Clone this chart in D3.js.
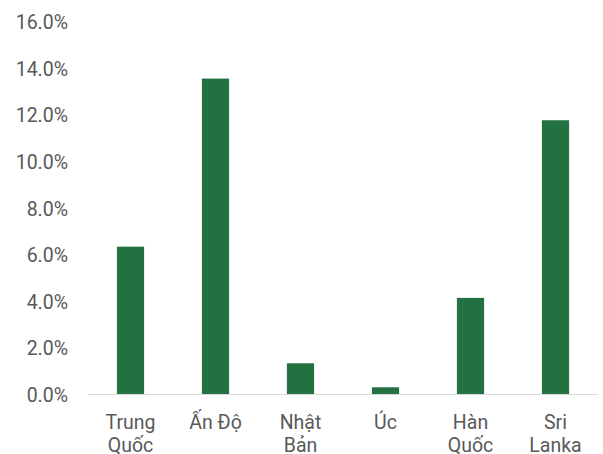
<!DOCTYPE html>
<html>
<head>
<meta charset="utf-8">
<script src="https://cdn.jsdelivr.net/npm/d3@7"></script>
<style>
  body { margin: 0; background: #fff; }
  text { font-family: Roboto, "Noto Sans", sans-serif; fill: #595959; }
</style>
</head>
<body>
<svg id="viz" width="603" height="454"></svg>
<script>
// Data
const categories = [['Trung', 'Quốc'], ['Ấn Độ'], ['Nhật', 'Bản'], ['Úc'], ['Hàn', 'Quốc'], ['Sri', 'Lanka']];
const values = [6.35, 13.57, 1.34, 0.31, 4.15, 11.78];
const yTicks = [0, 2, 4, 6, 8, 10, 12, 14, 16];

const svg = d3.select('#viz');
const margin = { top: 22, right: 5, bottom: 59.5, left: 88 };
const width  = 603 - margin.left - margin.right;
const height = 454 - margin.top - margin.bottom;
const g = svg.append('g').attr('transform', `translate(${margin.left},${margin.top})`);

const x = d3.scaleBand()
  .domain(d3.range(categories.length))
  .range([0, width]);

const y = d3.scaleLinear()
  .domain([0, 16])
  .range([height, 0]);

// Y axis labels
const yAxis = g.append('g')
  .call(d3.axisLeft(y).tickValues(yTicks).tickFormat(d => d.toFixed(1) + '%').tickSize(0).tickPadding(20));
yAxis.select('.domain').remove();
yAxis.selectAll('text').style('font-size', '19.5px').attr('fill', '#595959').attr('dy', '0.35em');

// Bars
const barW = x.bandwidth() * 0.32;
g.selectAll('rect.bar')
  .data(values)
  .join('rect')
  .attr('class', 'bar')
  .attr('x', (d, i) => x(i) + (x.bandwidth() - barW) / 2)
  .attr('y', d => y(d))
  .attr('width', barW)
  .attr('height', d => y(0) - y(d))
  .attr('fill', '#237140');

// Baseline
g.append('line')
  .attr('x1', 0).attr('x2', width)
  .attr('y1', y(0)).attr('y2', y(0))
  .attr('stroke', '#d9d9d9').attr('stroke-width', 1);

// Category labels
const labels = g.selectAll('text.cat')
  .data(categories)
  .join('text')
  .attr('class', 'cat')
  .attr('text-anchor', 'middle')
  .style('font-size', '19.5px')
  .attr('transform', (d, i) => `translate(${x(i) + x.bandwidth() / 2},${y(0) + 34})`);
labels.selectAll('tspan')
  .data(d => d)
  .join('tspan')
  .attr('x', 0)
  .attr('dy', (d, i) => i === 0 ? 0 : 23)
  .text(d => d);
</script>
</body>
</html>
